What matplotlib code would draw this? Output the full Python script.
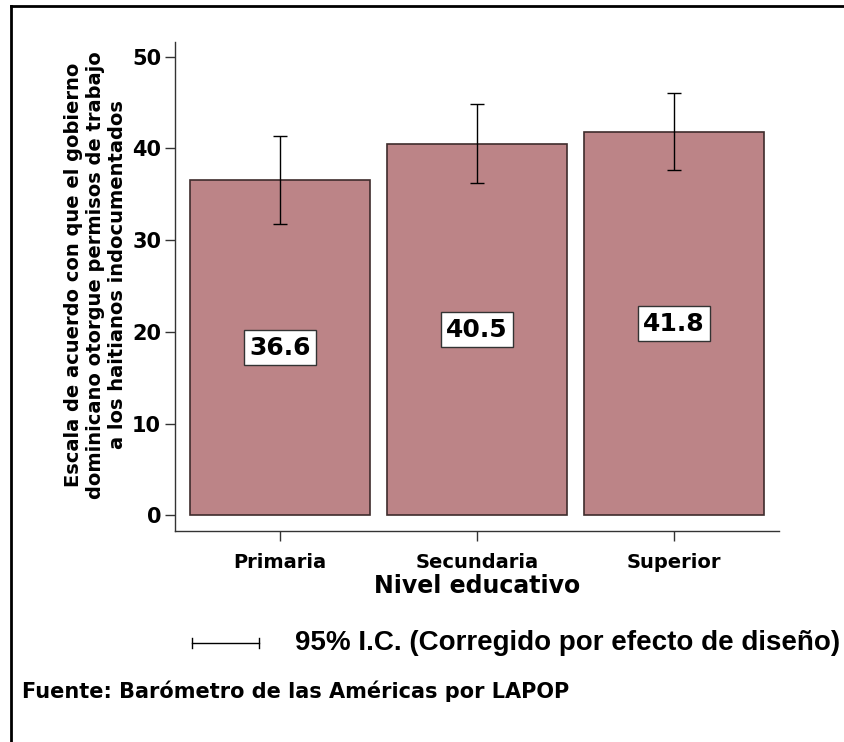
import numpy as np
import matplotlib
matplotlib.use('Agg')
import matplotlib.pyplot as plt
from matplotlib.lines import Line2D

# data
niveles = ['Primaria', 'Secundaria', 'Superior']
medias = [36.6, 40.5, 41.8]
ic_bajo = [31.8, 36.2, 37.6]
ic_alto = [41.4, 44.8, 46.0]

barcolor = '#bc8487'
edgecolor = '#3e2c2c'
bold = 'DejaVu Sans'

fig = plt.figure(figsize=(8.44, 7.42), dpi=100)
ax = fig.add_axes([175/844, 1-531/742, (779-175)/844, (531-42)/742])

x = np.arange(len(niveles))
medias = np.array(medias)
err = [medias - np.array(ic_bajo), np.array(ic_alto) - medias]

ax.bar(x, medias, width=0.91, color=barcolor, edgecolor=edgecolor, linewidth=1.2, zorder=2)
ax.errorbar(x, medias, yerr=err, fmt='none', ecolor='black', elinewidth=1.0,
            capsize=5, capthick=1.0, zorder=3)

for xi, m in zip(x, medias):
    ax.text(xi, m/2, '%.1f' % m, ha='center', va='center', fontsize=18,
            fontweight='bold', family=bold, zorder=4,
            bbox=dict(boxstyle='square,pad=0.22', fc='white', ec='#333333', lw=1.0))

ax.set_xlim(-0.533, 2.533)
ax.set_ylim(-1.7, 51.6)
ax.set_yticks([0, 10, 20, 30, 40, 50])
ax.set_xticks(x)
ax.set_xticklabels(niveles)
for s in ['top', 'right']:
    ax.spines[s].set_visible(False)
for s in ['left', 'bottom']:
    ax.spines[s].set_color('#333333')
    ax.spines[s].set_linewidth(1.0)
ax.tick_params(axis='y', length=7, width=1, color='#333333', labelsize=15, pad=3)
ax.tick_params(axis='x', length=7, width=1, color='#333333', labelsize=14, pad=9)
for lab in ax.get_yticklabels() + ax.get_xticklabels():
    lab.set_fontweight('bold')
    lab.set_family(bold)

ax.set_xlabel('Nivel educativo', fontsize=17, fontweight='bold', family=bold, labelpad=1)

fig.text(96/844, 1-275/742,
         'Escala de acuerdo con que el gobierno\ndominicano otorgue permisos de trabajo\na los haitianos indocumentados',
         rotation=90, ha='center', va='center', multialignment='center',
         fontsize=14, fontweight='bold', family=bold, linespacing=1.2)

# legend for the confidence interval
yl = 1-643/742
fig.add_artist(Line2D([192/844, 259/844], [yl, yl], color='black', lw=1.0))
fig.add_artist(Line2D([192/844, 192/844], [yl-5/742, yl+5/742], color='black', lw=1.0))
fig.add_artist(Line2D([259/844, 259/844], [yl-5/742, yl+5/742], color='black', lw=1.0))
fig.text(295/844, yl, '95% I.C. (Corregido por efecto de diseño)', ha='left', va='center',
         fontsize=20, fontweight='bold', family='Liberation Sans')

fig.text(22/844, 1-691/742, 'Fuente: Barómetro de las Américas por LAPOP', ha='left', va='center',
         fontsize=15, fontweight='bold', family=bold)

# outer frame (only left and top visible)
fig.add_artist(Line2D([11/844, 11/844], [0, 1-6/742], color='black', lw=2))
fig.add_artist(Line2D([11/844, 1], [1-6/742, 1-6/742], color='black', lw=2))

fig.savefig('out.png', dpi=100)
